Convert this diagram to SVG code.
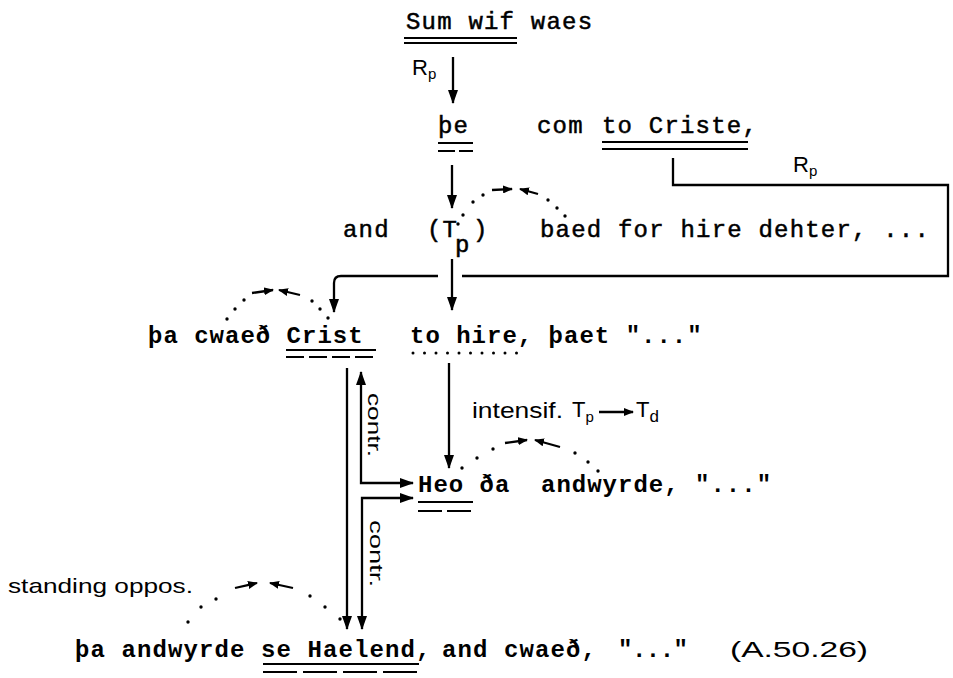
<svg xmlns="http://www.w3.org/2000/svg" width="953" height="678" viewBox="0 0 953 678">
<style>
.tw{font-family:"Liberation Mono","DejaVu Sans Mono",monospace;font-size:24px;letter-spacing:1.2px;fill:#000;stroke:#000;stroke-width:0.5}
.twb{font-family:"Liberation Mono","DejaVu Sans Mono",monospace;font-size:24px;font-weight:bold;letter-spacing:1px;fill:#000}
.hw{font-family:"Liberation Sans","DejaVu Sans",sans-serif;fill:#000}
.ln{fill:none;stroke:#000;stroke-width:2.3}
.ul{fill:none;stroke:#000;stroke-width:2.2}
.dash2{stroke-dasharray:17 4}
.dot{fill:#000}
</style>
<defs>
<marker id="ah" viewBox="0 0 14 10" refX="13" refY="5" markerWidth="14" markerHeight="10" markerUnits="userSpaceOnUse" orient="auto-start-reverse"><path d="M0,0 L14,5 L0,10 z"/></marker>
<marker id="sh" viewBox="0 0 10 8" refX="9" refY="4" markerWidth="10" markerHeight="8" markerUnits="userSpaceOnUse" orient="auto"><path d="M0,0 L10,4 L0,8 z"/></marker>
</defs>

<g id="n-sumwif">
<text class="tw" x="406" y="29">Sum wif waes</text>
<line class="ul" x1="404" y1="38" x2="517" y2="38"/>
<line class="ul" x1="404" y1="43" x2="517" y2="43"/>
</g>

<g id="n-line2">
<text class="tw" y="133"><tspan x="438">þe </tspan><tspan x="537">com </tspan><tspan x="602">to Criste,</tspan></text>
<line class="ul" x1="438" y1="143" x2="473" y2="143"/>
<line class="ul dash2" x1="438" y1="151" x2="473" y2="151"/>
<line class="ul" x1="602" y1="142" x2="748" y2="142"/>
<line class="ul" x1="602" y1="149" x2="748" y2="149"/>
</g>

<g id="n-line3">
<text class="tw" y="237"><tspan x="343">and </tspan><tspan x="427">(T</tspan><tspan x="455" y="252">p</tspan><tspan x="473" y="237">) </tspan><tspan x="540">baed for hire dehter, ...</tspan></text>
</g>

<g id="n-line4">
<text class="twb" y="343"><tspan x="148">þa cwaeð Crist </tspan><tspan x="410">to hire, þaet "..."</tspan></text>
<line class="ul" x1="286" y1="350" x2="376" y2="350"/>
<line class="ul" x1="286" y1="357" x2="376" y2="357" stroke-dasharray="18 5"/>
<g class="dot">
<circle cx="413" cy="353" r="1.5"/><circle cx="424.5" cy="353" r="1.5"/><circle cx="436" cy="353" r="1.5"/><circle cx="447.5" cy="353" r="1.5"/><circle cx="459" cy="353" r="1.5"/><circle cx="470.5" cy="353" r="1.5"/><circle cx="482" cy="353" r="1.5"/><circle cx="493.5" cy="353" r="1.5"/><circle cx="505" cy="353" r="1.5"/><circle cx="516.5" cy="353" r="1.5"/>
</g>
</g>

<g id="n-heo">
<text class="twb" y="492"><tspan x="418">Heo ða </tspan><tspan x="541">andwyrde, "..."</tspan></text>
<line class="ul" x1="418" y1="502" x2="473" y2="502"/>
<line class="ul" x1="418" y1="511" x2="473" y2="511" stroke-dasharray="24 5"/>
</g>

<g id="n-line7">
<text class="twb" y="657" style="letter-spacing:1.1px"><tspan x="75">þa andwyrde se Haelend, </tspan><tspan x="442">and cwaeð, </tspan><tspan x="618" style="letter-spacing:-0.5px">"..."</tspan></text>
<line class="ul" x1="263" y1="664" x2="419" y2="664"/>
<line class="ul" x1="263" y1="672" x2="419" y2="672" stroke-dasharray="34 6"/>
<text class="hw" x="730" y="657" font-size="22" textLength="138" lengthAdjust="spacingAndGlyphs">(A.50.26)</text>
</g>

<g id="labels">
<text class="hw" x="412" y="75" font-size="22">R<tspan font-size="15" dy="4">p</tspan></text>
<text class="hw" x="793" y="172" font-size="22">R<tspan font-size="15" dy="4">p</tspan></text>
<text class="hw" x="472" y="418" font-size="22" textLength="91" lengthAdjust="spacingAndGlyphs">intensif.</text>
<text class="hw" x="572" y="417" font-size="22">T<tspan font-size="15" dy="5">p</tspan></text>
<text class="hw" x="636" y="417" font-size="22">T<tspan font-size="17" dy="5">d</tspan></text>
<text class="hw" transform="translate(368,393) rotate(90)" font-size="18" textLength="64" lengthAdjust="spacingAndGlyphs">contr.</text>
<text class="hw" transform="translate(370,520) rotate(90)" font-size="18" textLength="67" lengthAdjust="spacingAndGlyphs">contr.</text>
<text class="hw" x="8" y="593" font-size="21" textLength="185" lengthAdjust="spacingAndGlyphs">standing oppos.</text>
</g>

<g id="connectors">
<line class="ln" x1="453" y1="57" x2="453" y2="103" marker-end="url(#ah)"/>
<line class="ln" x1="452" y1="165" x2="452" y2="208" marker-end="url(#ah)"/>
<line class="ln" x1="452" y1="259" x2="452" y2="310" marker-end="url(#ah)"/>
<path class="ln" d="M673,158 V185 H948 V276 H462"/>
<path class="ln" d="M438,276 H341 Q334,276 334,283 V312" marker-end="url(#ah)"/>
<line class="ln" x1="599" y1="412" x2="633" y2="412" marker-end="url(#sh)"/>
<line class="ln" x1="449" y1="363" x2="449" y2="468" marker-end="url(#ah)"/>
<line class="ln" x1="347" y1="368" x2="347" y2="629" marker-end="url(#ah)"/>
<path class="ln" d="M361,372 V483 H413" marker-start="url(#ah)" marker-end="url(#ah)"/>
<path class="ln" d="M413,498 H362 V629" marker-start="url(#ah)" marker-end="url(#ah)"/>

<g class="dot">
<circle cx="458" cy="224" r="1.7"/><circle cx="463" cy="215" r="1.7"/><circle cx="473" cy="202" r="1.7"/><circle cx="483" cy="195" r="1.7"/>
<circle cx="548" cy="200" r="1.7"/><circle cx="557" cy="208" r="1.7"/><circle cx="565" cy="216" r="1.7"/>
<circle cx="227" cy="319" r="1.7"/><circle cx="235" cy="309" r="1.7"/><circle cx="244" cy="300" r="1.7"/>
<circle cx="312" cy="301" r="1.7"/><circle cx="320" cy="309" r="1.7"/><circle cx="328" cy="318" r="1.7"/>
<circle cx="462" cy="468" r="1.7"/><circle cx="477" cy="458" r="1.7"/><circle cx="493" cy="449" r="1.7"/>
<circle cx="575" cy="453" r="1.7"/><circle cx="588" cy="462" r="1.7"/><circle cx="598" cy="471" r="1.7"/>
<circle cx="188" cy="622" r="1.7"/><circle cx="201" cy="607" r="1.7"/><circle cx="216" cy="599" r="1.7"/>
<circle cx="310" cy="596" r="1.7"/><circle cx="325" cy="607" r="1.7"/><circle cx="340" cy="619" r="1.7"/>
</g>
<line class="ln" x1="492" y1="190" x2="512" y2="189" marker-end="url(#sh)"/>
<line class="ln" x1="538" y1="194" x2="520" y2="189" marker-end="url(#sh)"/>
<line class="ln" x1="252" y1="293" x2="273" y2="290" marker-end="url(#sh)"/>
<line class="ln" x1="300" y1="295" x2="279" y2="290" marker-end="url(#sh)"/>
<line class="ln" x1="505" y1="443" x2="527" y2="440" marker-end="url(#sh)"/>
<line class="ln" x1="560" y1="447" x2="535" y2="440" marker-end="url(#sh)"/>
<line class="ln" x1="235" y1="588" x2="257" y2="583" marker-end="url(#sh)"/>
<line class="ln" x1="293" y1="588" x2="270" y2="583" marker-end="url(#sh)"/>
</g>
</svg>
